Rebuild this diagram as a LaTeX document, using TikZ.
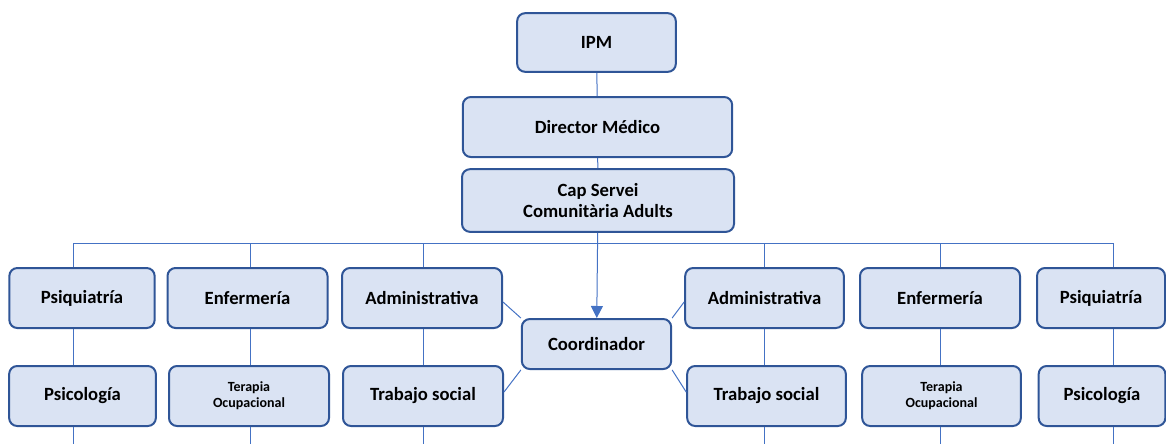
\documentclass[tikz,border=0pt]{standalone}
\usepackage{fontspec}
\setmainfont{Carlito}
\usetikzlibrary{arrows.meta}

\definecolor{boxfill}{HTML}{DAE3F3}
\definecolor{boxline}{HTML}{2F5597}
\definecolor{linkline}{HTML}{4472C4}

\begin{document}
\begin{tikzpicture}[x=0.75pt,y=-0.75pt,
    unit/.style={draw=boxline, fill=boxfill, line width=1.5pt, rounded corners=6pt,
        align=center, inner sep=0pt, minimum height=45pt,
        font=\fontsize{14}{15.5}\selectfont\bfseries},
    small/.style={font=\fontsize{10.5}{12}\selectfont\bfseries},
    link/.style={draw=linkline, line width=0.75pt}]
    \useasboundingbox (0,0) rectangle (1166,444);

    \node[unit, minimum width=119pt, minimum height=44pt] (ipm) at (596.5,42.5) {IPM};
    \node[unit, minimum width=202pt] (dir) at (597.5,127) {Director Médico};
    \node[unit, minimum width=204pt, minimum height=47pt] (cap) at (598,200.5) {Cap Servei\\Comunitària Adults};
    \node[unit, minimum width=112pt, minimum height=37.5pt] (coord) at (596.5,344) {Coordinador};

    \node[unit, minimum width=109pt] (psiqL) at (82,298) {Psiquiatría};
    \node[unit, minimum width=120pt] (enfL) at (247.5,298) {Enfermería};
    \node[unit, minimum width=120pt] (admL) at (422,298) {Administrativa};
    \node[unit, minimum width=110pt] (psicL) at (82.5,396) {Psicología};
    \node[unit, small, minimum width=120pt] (terL) at (249,396) {Terapia\\Ocupacional};
    \node[unit, minimum width=120pt] (trabL) at (423,396) {Trabajo social};

    \node[unit, minimum width=119pt] (admR) at (764.5,298) {Administrativa};
    \node[unit, minimum width=120pt] (enfR) at (940,298) {Enfermería};
    \node[unit, minimum width=96pt] (psiqR) at (1101,298) {Psiquiatría};
    \node[unit, minimum width=119pt] (trabR) at (766.5,396) {Trabajo social};
    \node[unit, small, minimum width=119pt] (terR) at (941.5,396) {Terapia\\Ocupacional};
    \node[unit, minimum width=95pt] (psicR) at (1102,396) {Psicología};

    \coordinate (b1) at (73,243);
    \coordinate (b2) at (250,243);
    \coordinate (b3) at (423,243);
    \coordinate (b4) at (764,243);
    \coordinate (b5) at (940,243);
    \coordinate (b6) at (1113,243);
    \coordinate (foot) at (0,444);

    \draw[link] (ipm) -- (dir);
    \draw[link] (dir) -- (cap);
    \draw[link] (b1) -- (b6);
    \draw[link, -{Triangle[width=9pt,length=9pt]}] (cap) -- (coord);

    \foreach \b/\t/\s in {b1/psiqL/psicL, b2/enfL/terL, b3/admL/trabL,
                          b4/admR/trabR, b5/enfR/terR, b6/psiqR/psicR}{
        \draw[link] (\b) -- (\b |- \t.north);
        \draw[link] (\b |- \t.south) -- (\b |- \s.north);
        \draw[link] (\b |- \s.south) -- (\b |- foot);
    }

    \draw[link] ([yshift=-3pt]admL.east) -- (coord.north west);
    \draw[link] ([yshift=3pt]trabL.east) -- (coord.south west);
    \draw[link] (coord.north east) -- ([yshift=-3pt]admR.west);
    \draw[link] (coord.south east) -- ([yshift=3pt]trabR.west);
\end{tikzpicture}
\end{document}
